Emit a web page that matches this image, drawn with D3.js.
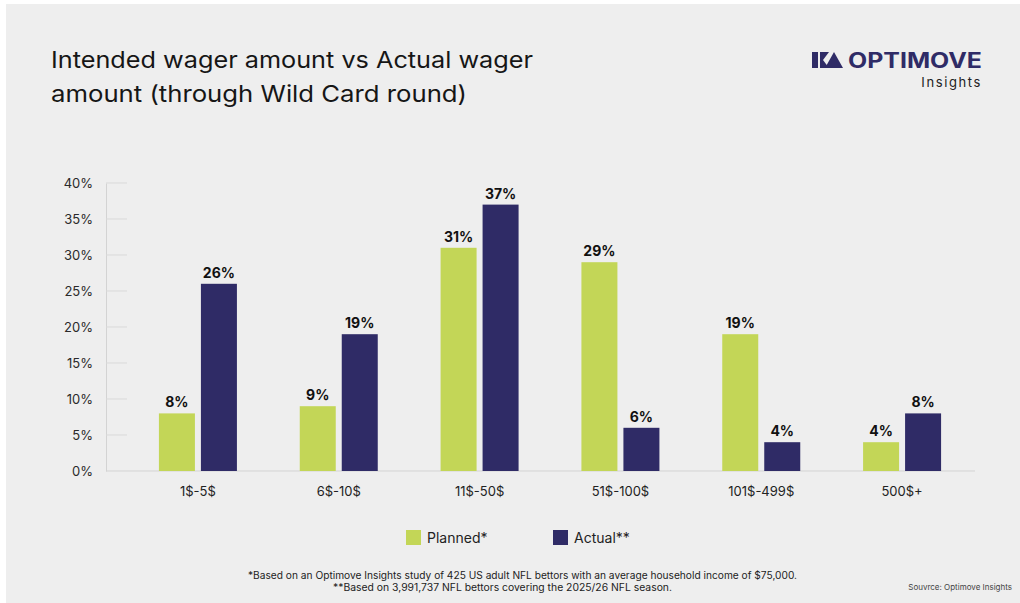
<!DOCTYPE html>
<html>
<head>
<meta charset="utf-8">
<script src="https://cdn.jsdelivr.net/npm/d3@7"></script>
<style>
html,body{margin:0;padding:0;background:#fff;}
svg{display:block;}
text{font-family:Inter,"Noto Sans",sans-serif;}
</style>
</head>
<body>
<svg id="chart" width="1020" height="603"></svg>
<script>
const categories = ["1$-5$", "6$-10$", "11$-50$", "51$-100$", "101$-499$", "500$+"];
const planned = [8, 9, 31, 29, 19, 4];
const actual = [26, 19, 37, 6, 4, 8];
const yTicks = [0, 5, 10, 15, 20, 25, 30, 35, 40];
const seriesNames = ["Planned*", "Actual**"];
const colors = ["#c3d657", "#2f2b66"];

const svg = d3.select("#chart");
svg.append("rect").attr("x", 6).attr("y", 4).attr("width", 1014).attr("height", 599).attr("fill", "#eeeeee");

// Title
const title = svg.append("text").attr("fill", "#161616").attr("font-size", 23);
title.append("tspan").attr("x", 51).attr("y", 68).attr("textLength", 482).attr("lengthAdjust", "spacingAndGlyphs").text("Intended wager amount vs Actual wager");
title.append("tspan").attr("x", 51).attr("y", 102).attr("textLength", 416).attr("lengthAdjust", "spacingAndGlyphs").text("amount (through Wild Card round)");

// Logo
const logo = svg.append("g").attr("fill", "#2f2b66");
logo.append("path").attr("d", "M812,52 L818,52 L818,68 L812,68 Z M820,52 L829,52 L823,60 L829,68 L820,68 Z");
logo.append("path").attr("d", "M834,52 L843,68 L825,68 Z");
svg.append("text").attr("x", 982).attr("y", 68).attr("text-anchor", "end").attr("font-size", 21).attr("font-weight", 700)
  .attr("fill", "#2f2b66").attr("textLength", 134).attr("lengthAdjust", "spacingAndGlyphs").text("OPTIMOVE");
svg.append("text").attr("x", 982).attr("y", 87).attr("text-anchor", "end").attr("font-size", 13).attr("letter-spacing", 1.6)
  .attr("fill", "#222").text("Insights");

// Scales
const y = d3.scaleLinear().domain([0, 40]).range([471, 183]);
const x = d3.scaleBand().domain(categories).range([127.5, 972.5]).padding(0);
const barW = 36, gap = 3;

// Y axis
const yAxis = d3.axisLeft(y).tickValues(yTicks).tickFormat(d => d + "%").tickSize(0).tickPadding(13);
const yg = svg.append("g").attr("transform", "translate(106,0)").call(yAxis);
yg.select(".domain").attr("stroke", "#d3d3d3");
yg.selectAll("text").attr("font-size", 13).attr("fill", "#2a2a2a").attr("font-family", "Inter, sans-serif");
svg.append("g").selectAll("line").data(yTicks.filter(d => d > 0)).join("line")
  .attr("x1", 106).attr("x2", 127).attr("y1", d => y(d)).attr("y2", d => y(d))
  .attr("stroke", "#d9d9d9").attr("stroke-width", 1);

// X axis
const xAxis = d3.axisBottom(x).tickSize(0).tickPadding(16);
const xg = svg.append("g").attr("transform", "translate(0,471)").call(xAxis);
xg.select(".domain").remove();
xg.selectAll("text").attr("font-size", 13).attr("fill", "#222").attr("font-family", "Inter, sans-serif");
svg.append("line").attr("x1", 106).attr("x2", 975).attr("y1", 471).attr("y2", 471).attr("stroke", "#d3d3d3");

// Bars
const data = categories.map((c, i) => ({c, p: planned[i], a: actual[i]}));
const cx = c => x(c) + x.bandwidth() / 2;
const g = svg.append("g");
g.selectAll(".bp").data(data).join("rect").attr("class", "bp")
  .attr("x", d => cx(d.c) - gap - barW).attr("width", barW)
  .attr("y", d => y(d.p)).attr("height", d => y(0) - y(d.p)).attr("fill", colors[0]);
g.selectAll(".ba").data(data).join("rect").attr("class", "ba")
  .attr("x", d => cx(d.c) + gap).attr("width", barW)
  .attr("y", d => y(d.a)).attr("height", d => y(0) - y(d.a)).attr("fill", colors[1]);
g.selectAll(".lp").data(data).join("text").attr("class", "lp")
  .attr("x", d => cx(d.c) - gap - barW / 2).attr("y", d => y(d.p) - 6)
  .attr("text-anchor", "middle").attr("font-size", 14).attr("font-weight", 700).attr("fill", "#111").text(d => d.p + "%");
g.selectAll(".la").data(data).join("text").attr("class", "la")
  .attr("x", d => cx(d.c) + gap + barW / 2).attr("y", d => y(d.a) - 6)
  .attr("text-anchor", "middle").attr("font-size", 14).attr("font-weight", 700).attr("fill", "#111").text(d => d.a + "%");

// Legend
const legX = [406, 553];
const leg = svg.append("g").selectAll("g").data(seriesNames).join("g")
  .attr("transform", (d, i) => `translate(${legX[i]},530)`);
leg.append("rect").attr("width", 15).attr("height", 15).attr("fill", (d, i) => colors[i]);
leg.append("text").attr("x", 21).attr("y", 13).attr("font-size", 14).attr("fill", "#222").text(d => d);

// Footnotes
svg.append("text").attr("x", 248).attr("y", 579).attr("font-size", 10).attr("fill", "#222")
  .attr("textLength", 549).attr("lengthAdjust", "spacingAndGlyphs")
  .text("*Based on an Optimove Insights study of 425 US adult NFL bettors with an average household income of $75,000.");
svg.append("text").attr("x", 333).attr("y", 591).attr("font-size", 10).attr("fill", "#222")
  .attr("textLength", 339).attr("lengthAdjust", "spacingAndGlyphs")
  .text("**Based on 3,991,737 NFL bettors covering the 2025/26 NFL season.");
svg.append("text").attr("x", 1012).attr("y", 590).attr("text-anchor", "end").attr("font-size", 8).attr("fill", "#444")
  .text("Souvrce: Optimove Insights");
</script>
</body>
</html>
